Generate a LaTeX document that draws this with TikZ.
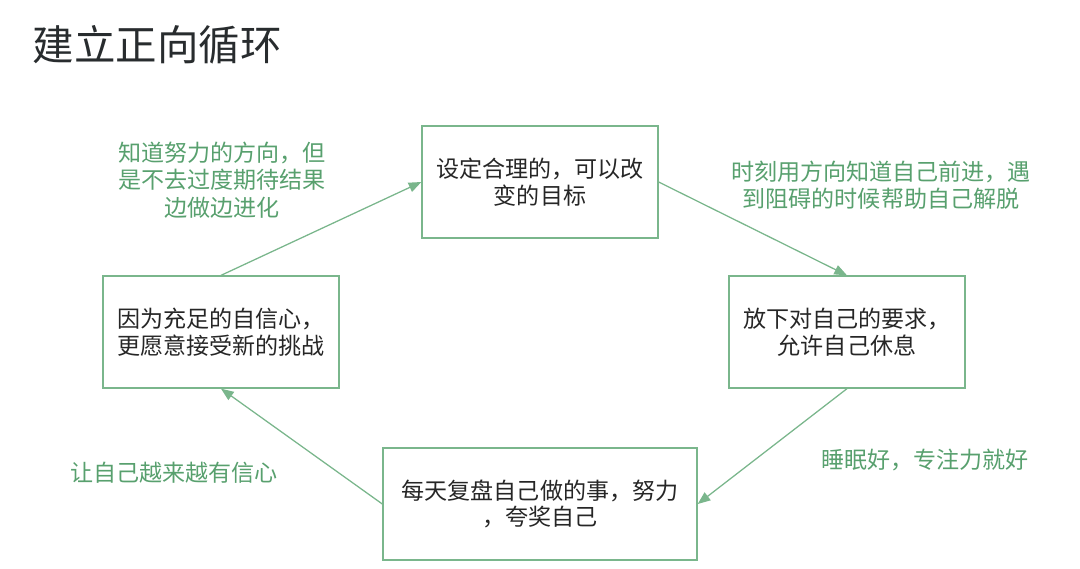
\documentclass[tikz,border=0pt]{standalone}
\usepackage{fontspec}
\setmainfont{Noto Sans CJK SC}
\usetikzlibrary{arrows.meta}
\definecolor{loopline}{RGB}{122,182,140}
\definecolor{looptext}{RGB}{88,160,110}
\definecolor{titlegray}{RGB}{40,44,46}
\begin{document}
\begin{tikzpicture}[
    x=0.025cm, y=-0.025cm,
    >={Triangle[length=9pt,width=7pt]},
    stage/.style={draw=loopline, line width=0.9pt, rectangle, minimum width=5.9cm, minimum height=2.8cm, align=center, font=\fontsize{16.4}{19}\selectfont, text=black!85},
    note/.style={draw=none, align=center, text=looptext, font=\fontsize{16.4}{19.5}\selectfont},
    arrow/.style={->, line width=0.9pt, draw=loopline, fill=loopline}
]
  \useasboundingbox (0,0) rectangle (1080,568);

  \node[draw=none, anchor=west, text=titlegray, font=\fontsize{29.5}{32}\selectfont] (title) at (28,45) {建立正向循环};

  \node[stage] (goal) at (540,182) {设定合理的，可以改\\变的目标};
  \node[stage] (rest) at (847,332) {放下对自己的要求，\\ 允许自己休息};
  \node[stage, minimum width=7.85cm] (review) at (540,504) {每天复盘自己做的事，努力\\，夸奖自己};
  \node[stage] (confid) at (221,332) {因为充足的自信心，\\更愿意接受新的挑战};

  \draw[arrow] (confid.north) -- (goal.west);
  \draw[arrow] (goal.east) -- (rest.north);
  \draw[arrow] (rest.south) -- (review.east);
  \draw[arrow] (review.west) -- (confid.south);

  % Annotations along the arrows
  \node[note] (n1) at (222,180) {知道努力的方向，但\\是不去过度期待结果\\边做边进化};
  \node[note] (n2) at (881,185) {时刻用方向知道自己前进，遇\\到阻碍的时候帮助自己解脱};
  \node[note] (n3) at (925,460) {睡眠好，专注力就好};
  \node[note] (n4) at (174,473) {让自己越来越有信心};
\end{tikzpicture}
\end{document}
